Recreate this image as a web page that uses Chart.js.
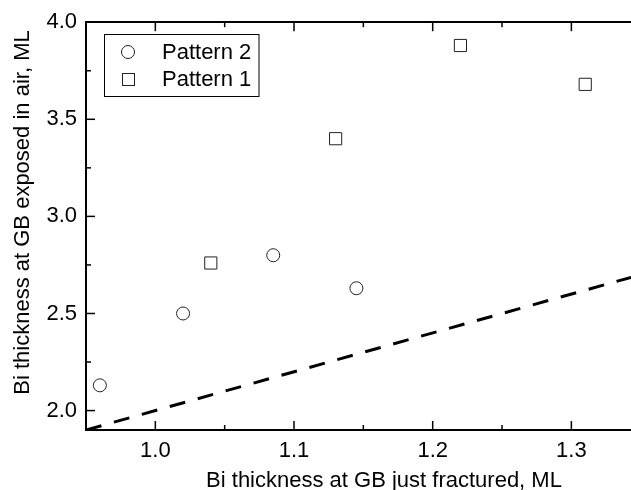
<!DOCTYPE html>
<html>
<head>
<meta charset="utf-8">
<script src="https://cdn.jsdelivr.net/npm/chart.js@4/dist/chart.umd.min.js"></script>
<style>
    html, body { margin: 0; padding: 0; background: #fff; overflow: hidden; }
    #wrap { width: 631px; height: 490px; }
</style>
</head>
<body>
<div id="wrap"><canvas id="chart"></canvas></div>
<script>
// values
const pattern2X = [0.96, 1.02, 1.085, 1.145];
const pattern2Y = [2.13, 2.50, 2.80, 2.63];
const pattern1X = [1.04, 1.13, 1.22, 1.31];
const pattern1Y = [2.76, 3.40, 3.88, 3.68];
const refLineX = [0.95, 1.343];
const refLineY = [1.90, 2.686];

const xMajorTicks = [1.0, 1.1, 1.2, 1.3];
const xMinorTicks = [1.05, 1.15, 1.25];
const yMajorTicks = [2.0, 2.5, 3.0, 3.5, 4.0];
const yMinorTicks = [2.25, 2.75, 3.25, 3.75];

const xTitle = 'Bi thickness at GB just fractured, ML';
const yTitle = 'Bi thickness at GB exposed in air, ML';
const legendLabels = ['Pattern 2', 'Pattern 1'];

const FONT = '"Liberation Sans", Arial, sans-serif';

function toPoints(xs, ys) {
    return xs.map((x, i) => ({ x: x, y: ys[i] }));
}

// inward ticks, top axis ticks, legend box and axis titles
const decor = {
    id: 'decor',
    afterDraw(chart) {
        const { ctx, chartArea: a, scales: { x, y } } = chart;
        ctx.save();
        ctx.strokeStyle = '#000';
        ctx.lineWidth = 1.5;
        const line = (x1, y1, x2, y2) => {
            ctx.beginPath();
            ctx.moveTo(x1, y1);
            ctx.lineTo(x2, y2);
            ctx.stroke();
        };
        xMajorTicks.forEach(v => {
            const px = x.getPixelForValue(v);
            line(px, a.bottom, px, a.bottom - 9);
            line(px, a.top, px, a.top + 9);
        });
        xMinorTicks.forEach(v => {
            const px = x.getPixelForValue(v);
            line(px, a.bottom, px, a.bottom - 5);
            line(px, a.top, px, a.top + 5);
        });
        yMajorTicks.forEach(v => {
            const py = y.getPixelForValue(v);
            line(a.left, py, a.left + 9, py);
        });
        yMinorTicks.forEach(v => {
            const py = y.getPixelForValue(v);
            line(a.left, py, a.left + 5, py);
        });

        // legend
        ctx.lineWidth = 1;
        ctx.strokeStyle = '#000';
        ctx.strokeRect(104.5, 34.5, 154.5, 62);
        ctx.strokeStyle = '#222';
        ctx.beginPath();
        ctx.arc(128, 52, 6.5, 0, Math.PI * 2);
        ctx.stroke();
        ctx.strokeRect(122.5, 73.5, 12, 12);
        ctx.fillStyle = '#000';
        ctx.font = '22px ' + FONT;
        ctx.textAlign = 'left';
        ctx.textBaseline = 'alphabetic';
        ctx.fillText(legendLabels[0], 162, 59);
        ctx.fillText(legendLabels[1], 162, 86);

        // axis titles
        ctx.textAlign = 'center';
        ctx.fillText(xTitle, 384, 487);
        ctx.translate(29, 212.5);
        ctx.rotate(-Math.PI / 2);
        ctx.fillText(yTitle, 0, 0);
        ctx.restore();
    }
};

const noSidePadding = s => { s.paddingLeft = 0; s.paddingRight = 0; };

new Chart(document.getElementById('chart'), {
    type: 'scatter',
    data: {
        datasets: [
            {
                label: legendLabels[0],
                data: toPoints(pattern2X, pattern2Y),
                pointStyle: 'circle',
                pointRadius: 6.5,
                borderColor: '#222',
                backgroundColor: 'rgba(255,255,255,0)',
                borderWidth: 1
            },
            {
                label: legendLabels[1],
                data: toPoints(pattern1X, pattern1Y),
                pointStyle: 'rect',
                pointRadius: 8.6,
                borderColor: '#222',
                backgroundColor: 'rgba(255,255,255,0)',
                borderWidth: 1
            },
            {
                label: 'reference',
                type: 'line',
                data: toPoints(refLineX, refLineY),
                borderColor: '#000',
                borderWidth: 3,
                borderDash: [16, 13],
                pointRadius: 0,
                fill: false
            }
        ]
    },
    options: {
        responsive: true,
        maintainAspectRatio: false,
        animation: false,
        layout: { padding: 0, autoPadding: false },
        plugins: {
            legend: { display: false },
            tooltip: { enabled: false }
        },
        scales: {
            x: {
                type: 'linear',
                position: 'bottom',
                min: 0.95,
                max: 1.343,
                afterBuildTicks: s => { s.ticks = xMajorTicks.map(v => ({ value: v })); },
                afterFit: s => { s.height = 60; noSidePadding(s); },
                grid: { display: false, drawTicks: false },
                border: { display: true, color: '#000', width: 2 },
                ticks: {
                    color: '#000',
                    padding: 8,
                    maxRotation: 0,
                    font: { family: FONT, size: 22 },
                    callback: v => v.toFixed(1)
                }
            },
            x2: {
                type: 'linear',
                position: 'top',
                min: 0.95,
                max: 1.343,
                afterFit: s => { s.height = 19; noSidePadding(s); },
                grid: { display: false, drawTicks: false },
                border: { display: true, color: '#000', width: 2 },
                ticks: { display: false }
            },
            y: {
                type: 'linear',
                min: 1.9,
                max: 4.0,
                afterBuildTicks: s => { s.ticks = yMajorTicks.map(v => ({ value: v })); },
                afterFit: s => { s.width = 86; },
                grid: { display: false, drawTicks: false },
                border: { display: true, color: '#000', width: 2 },
                ticks: {
                    color: '#000',
                    padding: 9,
                    font: { family: FONT, size: 22 },
                    callback: v => v.toFixed(1)
                }
            }
        }
    },
    plugins: [decor]
});
</script>
</body>
</html>
